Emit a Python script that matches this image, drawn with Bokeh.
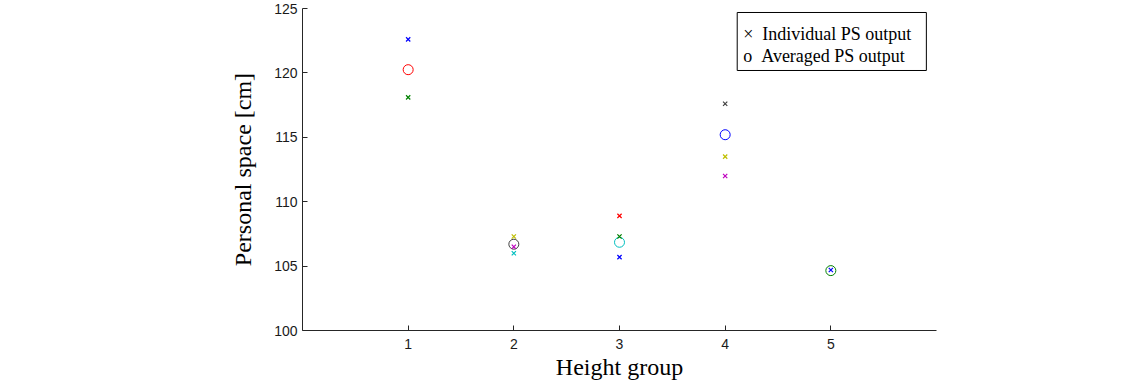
from bokeh.plotting import figure
from bokeh.models import Range1d, FixedTicker, Label, ColumnDataSource
from bokeh.embed import file_html
from bokeh.resources import INLINE

# ---- data ----
ind_group = [1, 1, 2, 2, 2, 3, 3, 3, 4, 4, 4, 5]
ind_ps = [122.6, 118.1, 107.3, 106.5, 106.0, 108.9, 107.3, 105.7, 117.6, 113.5, 112.0, 104.7]
ind_color = ["#0000ff", "#008000", "#bfbf00", "#bf00bf", "#00bfbf",
             "#ff0000", "#008000", "#0000ff", "#404040", "#bfbf00", "#bf00bf", "#0000ff"]

avg_group = [1, 2, 3, 4, 5]
avg_ps = [120.25, 106.7, 106.85, 115.2, 104.65]
avg_color = ["#ff0000", "#404040", "#00bfbf", "#0000ff", "#008000"]

x_ticks = [1, 2, 3, 4, 5]
y_ticks = [100, 105, 110, 115, 120, 125]

legend_text = "\u00d7\u00a0\u00a0Individual PS output\no\u00a0\u00a0Averaged PS output"

p = figure(width=1148, height=387, output_backend="svg", toolbar_location=None,
           x_range=Range1d(0, 6), y_range=Range1d(100, 125),
           min_border_left=302, min_border_right=212, min_border_top=8, min_border_bottom=57)
p.outline_line_color = None
p.xgrid.visible = False
p.ygrid.visible = False
p.background_fill_color = "white"
p.border_fill_color = "white"

ind_src = ColumnDataSource(dict(x=ind_group, y=ind_ps, c=ind_color))
avg_src = ColumnDataSource(dict(x=avg_group, y=avg_ps, c=avg_color))
p.scatter("x", "y", source=avg_src, marker="circle", size=10, fill_color=None,
          line_color="c", line_width=1)
p.scatter("x", "y", source=ind_src, marker="x", size=6, line_color="c", line_width=1.2)

for ax in (p.xaxis[0], p.yaxis[0]):
    ax.major_tick_in = 5
    ax.major_tick_out = 0
    ax.minor_tick_line_color = None
    ax.axis_line_color = "#262626"
    ax.major_tick_line_color = "#262626"
    ax.major_label_text_font = "Liberation Sans"
    ax.major_label_text_font_size = "14px"
    ax.major_label_text_color = "#1a1a1a"
    ax.axis_label_text_font = "Liberation Serif"
    ax.axis_label_text_font_size = "24px"
    ax.axis_label_text_font_style = "normal"
    ax.axis_label_text_color = "black"

p.xaxis.ticker = FixedTicker(ticks=x_ticks)
p.yaxis.ticker = FixedTicker(ticks=y_ticks)
p.xaxis.axis_label = "Height group"
p.yaxis.axis_label = "Personal space [cm]"
p.xaxis.major_label_standoff = 8
p.xaxis.axis_label_standoff = 2
p.yaxis.major_label_standoff = 5
p.yaxis.axis_label_standoff = 15

legend = Label(x=4.114, y=124.69, text=legend_text,
               text_font="Liberation Serif", text_font_size="18px", text_color="black",
               text_align="left", text_baseline="top", text_line_height=1.1,
               border_line_color="black", border_line_width=1,
               background_fill_color="white", background_fill_alpha=1.0,
               padding=(6, 15, 12, 4))
p.add_layout(legend)

open("out.html", "w").write(file_html(p, INLINE))
